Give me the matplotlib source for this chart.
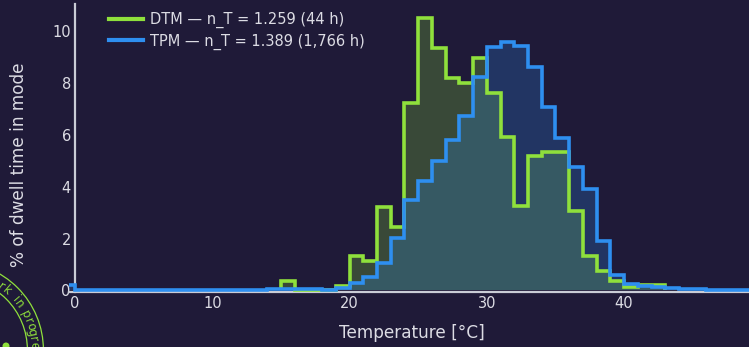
import numpy as np
import matplotlib
matplotlib.use("Agg")
import matplotlib.pyplot as plt
from matplotlib.lines import Line2D
from matplotlib.patches import Circle

# -------------------------------
# data (percent of dwell time per 1 degC bin)
# -------------------------------
tpm_edges = list(range(-1, 51))
tpm_values = [0.2,
              0, 0, 0, 0, 0, 0, 0, 0, 0, 0, 0, 0, 0, 0,
              0.05, 0.05, 0.05, 0.05, 0.03, 0.1,
              0.28, 0.53, 1.04, 2.03, 3.47, 4.2, 4.97, 5.78, 6.74, 8.24,
              9.37, 9.59, 9.43, 8.63, 7.06, 5.87, 4.74, 3.91, 1.92, 0.58,
              0.25, 0.18, 0.12, 0.08, 0.06, 0.04, 0.03, 0.02, 0.02, 0.01]

dtm_edges = list(range(15, 44))
dtm_values = [0.37, 0, 0, 0, 0.18,
              1.32, 1.13, 3.22, 2.45, 7.24, 10.5, 9.36, 8.18, 8.01, 8.95,
              7.6, 5.93, 3.24, 5.17, 5.32, 5.32, 3.05, 1.32, 0.74, 0.36,
              0.13, 0.2, 0.2]

dtm_label = "DTM \u2014 n_T = 1.259 (44 h)"
tpm_label = "TPM \u2014 n_T = 1.389 (1,766 h)"

BG = "#1f1a38"
GREEN = "#8fe03c"
BLUE = "#2e8ff0"
AXIS = "#c9ccd6"
TEXT = "#dcdce4"

W, H = 749, 347
fig = plt.figure(figsize=(W / 100, H / 100), dpi=100, facecolor=BG)

# main axes: x=0 sits at pixel 75, 13.72 px per degree; y=0 at pixel 291, 26 px per %
x0, xmax = -0.45, 49.1
left_px = 75 + x0 * 13.72
ax_w = W - left_px
ax = fig.add_axes([left_px / W, (H - 292) / H, ax_w / W, 288 / H])
ax.set_facecolor(BG)

ax.stairs(dtm_values, dtm_edges, fill=True, color=GREEN, alpha=0.24, lw=0, zorder=1)
ax.stairs(tpm_values, tpm_edges, fill=True, color=BLUE, alpha=0.24, lw=0, zorder=2)
ax.stairs(dtm_values, dtm_edges, color=GREEN, lw=2.6, zorder=3)
ax.stairs(tpm_values, tpm_edges, color=BLUE, lw=2.6, zorder=4)

ax.set_xlim(x0, xmax)
ax.set_ylim(-0.06, 11.04)
ax.set_xticks([0, 10, 20, 30, 40])
ax.set_yticks([0, 2, 4, 6, 8, 10])
ax.tick_params(length=0, colors=TEXT, labelsize=10.5, pad=3)

for s in ["top", "right"]:
    ax.spines[s].set_visible(False)
ax.spines["left"].set_position(("data", 0))
ax.spines["left"].set_color(AXIS)
ax.spines["left"].set_linewidth(1.6)
ax.spines["left"].set_zorder(0.5)
ax.spines["bottom"].set_color(AXIS)
ax.spines["bottom"].set_linewidth(1.6)

ax.set_xlabel("Temperature [\u00b0C]", color=TEXT, fontsize=12.2)
ax.xaxis.set_label_coords((412 - left_px) / ax_w, -(333 - 292) / 288)
ax.xaxis.label.set_va("center")
ax.set_ylabel("% of dwell time in mode", color=TEXT, fontsize=12.2)
ax.yaxis.set_label_coords((19 - left_px) / ax_w, (292 - 165) / 288)
ax.yaxis.label.set_va("center")

handles = [Line2D([], [], color=GREEN, lw=3), Line2D([], [], color=BLUE, lw=3)]
leg = fig.legend(handles, [dtm_label, tpm_label], loc="upper left",
                 bbox_to_anchor=(109 / W, 1 - 12 / H), frameon=False,
                 fontsize=10.5, labelcolor=TEXT, handlelength=2.3,
                 handletextpad=0.5, labelspacing=0.35, borderaxespad=0,
                 borderpad=0)

# -------------------------------
# "work in progress" stamp, bottom-left corner (pixel coords)
# -------------------------------
ov = fig.add_axes([0, 0, 1, 1], zorder=-1)
ov.set_xlim(0, W)
ov.set_ylim(H, 0)
ov.axis("off")
cx, cy = -44.6, 350
ov.add_patch(Circle((cx, cy), 88, fill=False, ec=GREEN, lw=0.9))
ov.add_patch(Circle((cx, cy), 72, fill=False, ec=GREEN, lw=0.9))
ov.add_patch(Circle((6, 346), 3.5, color=GREEN, lw=0))

stamp = "work in progress"
r_txt = 75.0
ang = 63.4
for ch in stamp:
    t = np.deg2rad(ang)
    px, py = cx + r_txt * np.cos(t), cy - r_txt * np.sin(t)
    # letters that fall wholly outside the picture are skipped
    if px > -4 and py < H + 4 and ch != " ":
        ov.text(px, py, ch, color=GREEN, fontsize=8.5, rotation=ang - 90,
                rotation_mode="anchor", ha="center", va="baseline")
    ang -= 4.6

fig.savefig("out.png", dpi=100, facecolor=BG)
